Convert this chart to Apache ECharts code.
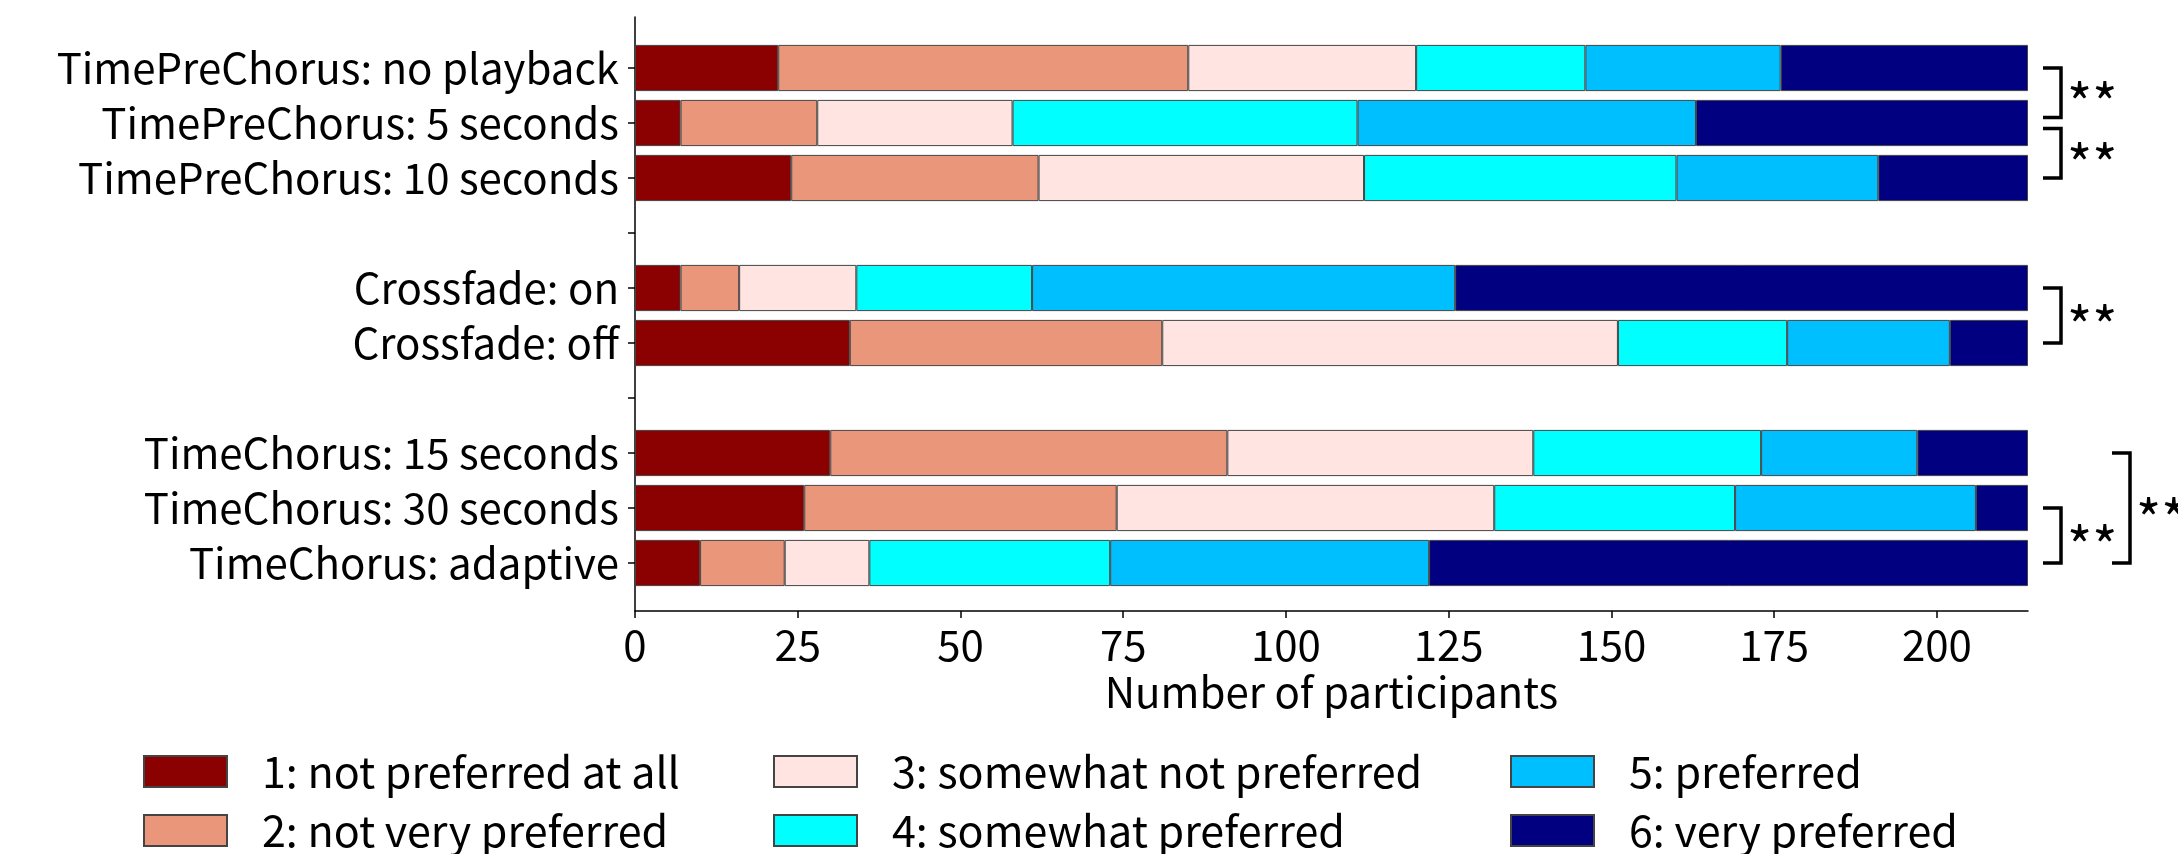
<!DOCTYPE html>
<html><head><meta charset="utf-8">
<script src="https://cdn.jsdelivr.net/npm/echarts@6/dist/echarts.min.js"></script>
<style>html,body{margin:0;padding:0;background:#fff}#c{width:2178px;height:854px}</style>
</head><body><div id="c"></div>
<script>
const categories = [
  'TimePreChorus: no playback', 'TimePreChorus: 5 seconds', 'TimePreChorus: 10 seconds', '',
  'Crossfade: on', 'Crossfade: off', '',
  'TimeChorus: 15 seconds', 'TimeChorus: 30 seconds', 'TimeChorus: adaptive'
];
const levelNames = ['1: not preferred at all', '2: not very preferred', '3: somewhat not preferred',
  '4: somewhat preferred', '5: preferred', '6: very preferred'];
const level1 = [22, 7, 24, null, 7, 33, null, 30, 26, 10];
const level2 = [63, 21, 38, null, 9, 48, null, 61, 48, 13];
const level3 = [35, 30, 50, null, 18, 70, null, 47, 58, 13];
const level4 = [26, 53, 48, null, 27, 26, null, 35, 37, 37];
const level5 = [30, 52, 31, null, 65, 25, null, 24, 37, 49];
const level6 = [38, 51, 23, null, 88, 12, null, 17, 8, 92];
const xTicks = [0, 25, 50, 75, 100, 125, 150, 175, 200];
const xMax = 214;
const sigPairs = [[0, 1], [1, 2], [4, 5], [8, 9], [7, 9]];
const sigLabels = ['**', '**', '**', '**', '**'];

const levels = [level1, level2, level3, level4, level5, level6];
const colors = ['#8B0000', '#E9967A', '#FFE4E1', '#00FFFF', '#00BFFF', '#000080'];
const FONT = '"Noto Sans CJK JP", "Noto Sans", sans-serif';
const FS = 42;

const chart = echarts.init(document.getElementById('c'), null, {renderer: 'canvas'});

const barSeries = levels.map((vals, k) => ({
  type: 'bar', name: levelNames[k], stack: 'total',
  xAxisIndex: 0, yAxisIndex: 0, barWidth: '84%',
  data: vals.map(v => v == null ? '-' : v),
  itemStyle: {color: colors[k], borderColor: '#444', borderWidth: 1},
  emphasis: {disabled: true}, silent: true
}));

function levelOf(p) {
  return sigPairs.some(q => q !== p && q[0] >= p[0] && q[1] <= p[1]) ? 1 : 0;
}

const bracketSeries = {
  type: 'custom', xAxisIndex: 0, yAxisIndex: 0, silent: true, clip: false, z: 10,
  data: sigPairs.map((p, i) => [xMax, p[0], p[1], i]),
  encode: {x: 0, y: 1},
  renderItem: function (params, api) {
    const i = api.value(3);
    const p = sigPairs[i];
    const lvl = levelOf(p);
    const same = sigPairs.filter(q => q !== p && levelOf(q) === lvl);
    const topShrink = same.some(q => q[1] === p[0]) ? 0.1 : 0;
    const botShrink = same.some(q => q[0] === p[1]) ? 0.1 : 0;
    const band = api.size([0, 1])[1];
    const a = api.coord([xMax, p[0]]);
    const b = api.coord([xMax, p[1]]);
    const y1 = a[1] + topShrink * band;
    const y2 = b[1] - botShrink * band;
    const x0 = a[0] + (lvl ? 84 : 15);
    const x1 = x0 + 18;
    return {
      type: 'group',
      children: [
        {type: 'polyline', shape: {points: [[x0, y1], [x1, y1], [x1, y2], [x0, y2]]},
          style: {stroke: '#000', lineWidth: 3.5, fill: null}},
        {type: 'text', style: {text: sigLabels[i], x: x1 + 6, y: (y1 + y2) / 2 + 11,
          align: 'left', verticalAlign: 'middle', fontSize: 54, fontFamily: FONT, fill: '#000'}}
      ]
    };
  }
};

const legendX = [143, 773, 1510];
const legendRowTop = [750, 809];
const option = {
  animation: false,
  backgroundColor: '#fff',
  textStyle: {fontFamily: FONT},
  grid: [
    {left: 635, right: 150, top: 40.5, bottom: 263.5, outerBoundsMode: 'none', containLabel: false},
    {left: 635, right: 150, top: 17, bottom: 243, outerBoundsMode: 'none', containLabel: false}
  ],
  xAxis: [
    {type: 'value', gridIndex: 0, min: 0, max: xMax, show: false},
    {type: 'value', gridIndex: 1, min: 0, max: xMax,
      axisLine: {show: true, onZero: false, lineStyle: {color: '#000', width: 1.5}},
      axisTick: {show: true, customValues: xTicks, length: 7, lineStyle: {color: '#000', width: 1.5}},
      axisLabel: {customValues: xTicks, fontSize: FS, color: '#000', margin: 13, fontFamily: FONT},
      splitLine: {show: false},
      name: 'Number of participants', nameLocation: 'middle', nameGap: 57,
      nameTextStyle: {fontSize: FS, color: '#000', fontFamily: FONT}}
  ],
  yAxis: [
    {type: 'category', gridIndex: 0, inverse: true, data: categories,
      axisLine: {show: false},
      axisTick: {show: true, alignWithLabel: true, length: 7, lineStyle: {color: '#000', width: 1.5}},
      axisLabel: {fontSize: FS, color: '#000', margin: 16, fontFamily: FONT, interval: 0},
      splitLine: {show: false}},
    {type: 'value', gridIndex: 1, min: 0, max: 1,
      axisLine: {show: true, onZero: false, lineStyle: {color: '#000', width: 1.5}},
      axisTick: {show: false}, axisLabel: {show: false}, splitLine: {show: false}}
  ],
  legend: levelNames.map((name, k) => ({
    orient: 'horizontal', left: legendX[Math.floor(k / 2)], top: legendRowTop[k % 2],
    padding: 0, itemWidth: 83, itemHeight: 31, icon: 'rect', selectedMode: false,
    data: [name],
    textStyle: {fontSize: 43, lineHeight: 31, color: '#000', fontFamily: FONT, padding: [0, 0, 0, 30]}
  })),
  series: barSeries.concat([bracketSeries])
};
chart.setOption(option);
</script></body></html>
